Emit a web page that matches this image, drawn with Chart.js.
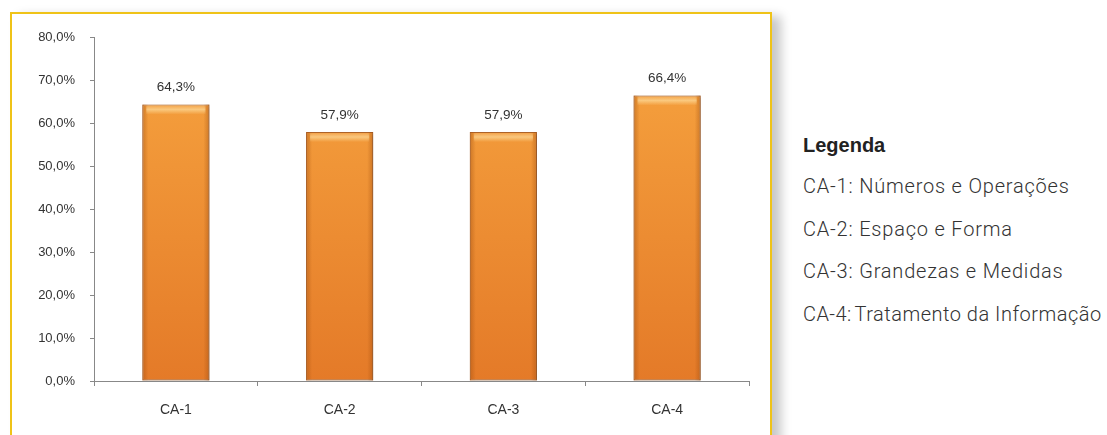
<!DOCTYPE html>
<html>
<head>
<meta charset="utf-8">
<script src="https://cdn.jsdelivr.net/npm/chart.js@4.4.0/dist/chart.umd.min.js"></script>
<style>
  html, body { margin: 0; padding: 0; background: #fff; width: 1107px; height: 435px; overflow: hidden; }
  #box { position: absolute; left: 10px; top: 12px; width: 758px; height: 440px;
         border: 2px solid #EFC318; box-shadow: 9px 4px 10px rgba(0,0,0,0.22); background: #fff; }
  #wrap { position: absolute; left: 12px; top: 14px; width: 758px; height: 421px; }
  #legend { position: absolute; left: 803px; top: 134px; font-family: Roboto, "Liberation Sans", sans-serif; color: #2a2a2a; }
  #legend .title { font-family: "Liberation Sans", Arial, sans-serif; font-weight: bold; font-size: 20px; margin-bottom: 19px; color: #222; line-height: 22px; }
  #legend .item { font-size: 20px; font-weight: 300; letter-spacing: 0.8px; height: 42.5px; line-height: 22px; white-space: nowrap; color: #333; }
  #legend .tight { letter-spacing: 0.4px; }
</style>
</head>
<body>
<div id="box"></div>
<div id="wrap"><canvas id="c" width="758" height="421"></canvas></div>
<div id="legend">
  <div class="title">Legenda</div>
  <div class="item">CA-1: Números e Operações</div>
  <div class="item">CA-2: Espaço e Forma</div>
  <div class="item">CA-3: Grandezas e Medidas</div>
  <div class="item"><span class="tight">CA-4:</span><span style="letter-spacing:0.5px;margin-left:3px">Tratamento da Informação</span></div>
</div>
<script>
const categories = ["CA-1", "CA-2", "CA-3", "CA-4"];
const values = [64.3, 57.9, 57.9, 66.4];
const yTicks = [0, 10, 20, 30, 40, 50, 60, 70, 80];

function fmt(v) { return v.toFixed(1).replace('.', ',') + '%'; }

const labelPlugin = {
  id: 'barLabels',
  afterDatasetsDraw(chart) {
    const ctx = chart.ctx;
    const meta = chart.getDatasetMeta(0);
    ctx.save();
    ctx.font = '13.5px "Liberation Sans", Arial, sans-serif';
    ctx.fillStyle = '#333';
    ctx.textAlign = 'center';
    ctx.textBaseline = 'middle';
    meta.data.forEach((bar, i) => {
      ctx.fillText(fmt(values[i]), bar.x, bar.y - 17);
    });
    ctx.restore();
  },
  beforeDatasetsDraw(chart) {
    const ctx = chart.ctx;
    ctx.save();
    ctx.shadowColor = 'rgba(0,0,0,0.25)';
    ctx.shadowBlur = 4;
    ctx.shadowOffsetX = 2;
    ctx.shadowOffsetY = 1;
  },
  afterDatasetDraw(chart) {
    chart.ctx.restore();
    const ctx = chart.ctx;
    const meta = chart.getDatasetMeta(0);
    ctx.save();
    meta.data.forEach((bar) => {
      const w = bar.width;
      const l = bar.x - w / 2;
      const g = ctx.createLinearGradient(l, 0, l + w, 0);
      g.addColorStop(0, 'rgba(150,70,10,0.4)');
      g.addColorStop(0.09, 'rgba(150,70,10,0.0)');
      g.addColorStop(0.91, 'rgba(150,70,10,0.0)');
      g.addColorStop(1, 'rgba(150,70,10,0.4)');
      ctx.fillStyle = g;
      ctx.fillRect(l, bar.y, w, bar.base - bar.y);
      const h = ctx.createLinearGradient(0, bar.y, 0, bar.y + 10);
      h.addColorStop(0, 'rgba(255,240,200,0.0)');
      h.addColorStop(0.5, 'rgba(255,230,170,0.6)');
      h.addColorStop(1, 'rgba(255,230,170,0.0)');
      ctx.fillStyle = h;
      ctx.fillRect(l + 4, bar.y + 1, w - 8, 9);
    });
    ctx.restore();
  }
};

const ctx = document.getElementById('c').getContext('2d');
new Chart(ctx, {
  type: 'bar',
  data: {
    labels: categories,
    datasets: [{
      data: values,
      backgroundColor: (c) => {
        const area = c.chart.chartArea;
        if (!area) return '#F39533';
        const g = c.chart.ctx.createLinearGradient(0, area.top, 0, area.bottom);
        g.addColorStop(0, '#F7A540');
        g.addColorStop(1, '#E47A28');
        return g;
      },
      borderColor: '#B8692A',
      borderWidth: 1,
      borderSkipped: false,
      barPercentage: 0.41,
      categoryPercentage: 1.0
    }]
  },
  options: {
    responsive: false,
    animation: false,
    layout: { padding: { left: 0, right: 21, top: 23, bottom: 0 } },
    plugins: { legend: { display: false }, tooltip: { enabled: false } },
    scales: {
      x: {
        grid: { display: true, drawOnChartArea: false, offset: true, color: '#888', tickLength: 5 },
        border: { display: true, color: '#888', width: 1 },
        ticks: { color: '#333', font: { family: '"Liberation Sans", Arial, sans-serif', size: 14 }, padding: 16 },
        afterFit(s) { s.height = 54; }
      },
      y: {
        min: 0, max: 80,
        afterBuildTicks(s) { s.ticks = yTicks.map(v => ({ value: v })); },
        grid: { display: true, drawOnChartArea: false, color: '#888', tickLength: 4 },
        border: { display: true, color: '#888', width: 1 },
        ticks: { color: '#333', font: { family: '"Liberation Sans", Arial, sans-serif', size: 13 }, padding: 15,
                 callback: (v) => fmt(v) },
        afterFit(s) { s.width = 82; }
      }
    }
  },
  plugins: [labelPlugin]
});
</script>
</body>
</html>
